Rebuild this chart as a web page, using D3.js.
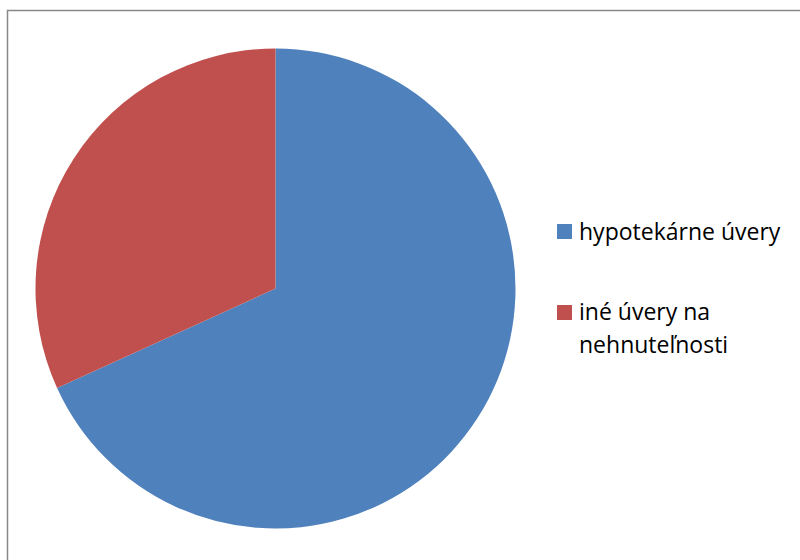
<!DOCTYPE html>
<html><head><meta charset="utf-8">
<script src="https://cdn.jsdelivr.net/npm/d3@7"></script>
<style>html,body{margin:0;padding:0;background:#fff;}svg{display:block;}</style>
</head><body>
<svg id="c" width="800" height="560"></svg>
<script>
const categories = ["hypotekárne úvery", "iné úvery na nehnuteľnosti"];
const values = [68.2, 31.8];
const colors = ["#4F81BD", "#C0504D"];
const legendLines = [["hypotekárne úvery"], ["iné úvery na", "nehnuteľnosti"]];

const svg = d3.select("#c");
// frame
svg.append("path").attr("d", "M7.5,560 V10.5 H800").attr("fill", "none").attr("stroke", "#888").attr("stroke-width", 1.5);

const cx = 275.5, cy = 288.5, r = 240;
const pie = d3.pie().sort(null).value(d => d)(values);
const arc = d3.arc().innerRadius(0).outerRadius(r);
const g = svg.append("g").attr("transform", `translate(${cx},${cy})`);
g.selectAll("path").data(pie).join("path")
  .attr("d", arc).attr("fill", (d, i) => colors[i]);

const leg = svg.append("g");
const sqTop = [224, 305];
const base = [240, 320];
categories.forEach((c, i) => {
  leg.append("rect").attr("x", 557).attr("y", sqTop[i]).attr("width", 15).attr("height", 15).attr("fill", colors[i]);
  const t = leg.append("text").attr("x", 579).attr("y", base[i])
    .attr("font-family", "Open Sans, sans-serif").attr("font-size", 23).attr("fill", "#000");
  legendLines[i].forEach((l, j) => {
    t.append("tspan").attr("x", 579).attr("dy", j === 0 ? 0 : 33).text(l);
  });
});
</script>
</body></html>
